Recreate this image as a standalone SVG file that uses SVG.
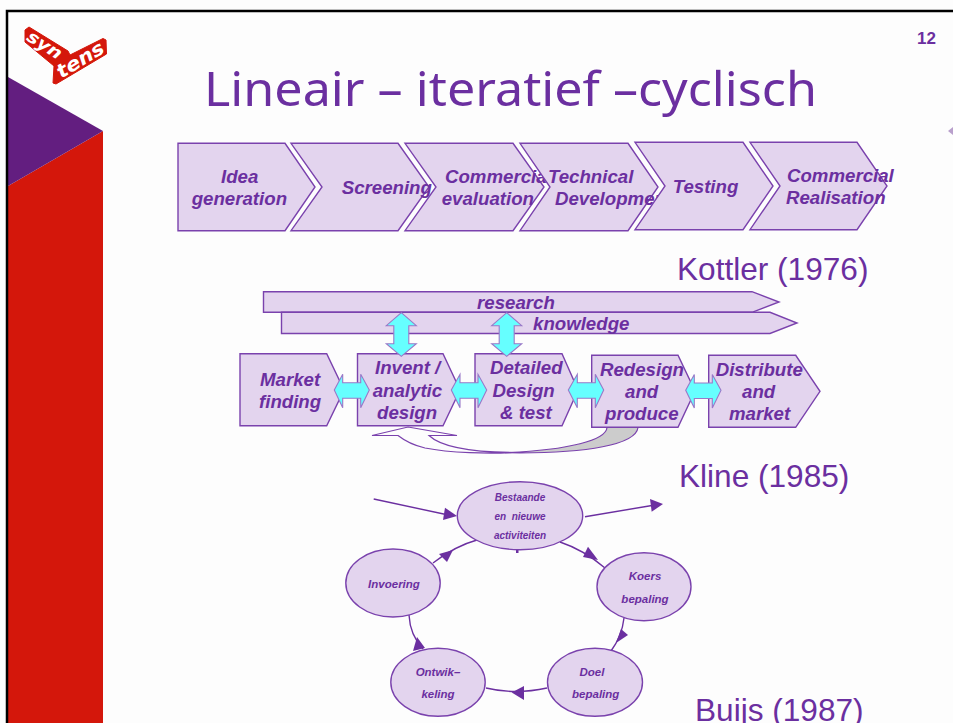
<svg xmlns="http://www.w3.org/2000/svg" width="953" height="723" viewBox="0 0 953 723">
<style>
.s{fill:#e3d4ee;stroke:#7a42ad;stroke-width:1.4}
.t{font-family:"Liberation Sans",Arial,sans-serif;font-weight:bold;font-style:italic;font-size:18.67px;fill:#6b2fa0}
.e{font-size:11.5px}
.h{font-family:"Liberation Sans",Arial,sans-serif;font-size:31.6px;fill:#6b2fa0}
.c{fill:#66ffff;stroke:#9a78c8;stroke-width:1.1}
.l{fill:none;stroke:#6b2fa0;stroke-width:1.4}
.a{fill:#6b2fa0}
.m{text-anchor:middle}
</style>
<rect width="953" height="723" fill="#fdfdfd"/>
<g id="frame">
<path d="M8,723V186L103,131V723Z" fill="#d4170b"/>
<path d="M8,77L103,131L8,186Z" fill="#631e80"/>
<path d="M7,723V11H953" fill="none" stroke="#000" stroke-width="2.5"/>
<polygon points="948,131 953,127 953,135" fill="#b9a0cc"/>
</g>
<g id="logo">
<path d="M25,30L29,27L68,51L70,55L103,38.5L106,40L106.5,54L56,84L53,83L54,66L25,42Z" fill="#d4170b" stroke="#d4170b" stroke-width="1" stroke-linejoin="round"/>
<text x="44" y="50.5" class="m" transform="rotate(33 44 46)" font-family="DejaVu Sans,sans-serif" font-weight="bold" font-style="italic" font-size="17" fill="#fff" textLength="38" lengthAdjust="spacingAndGlyphs">syn</text>
<text x="81" y="66" class="m" transform="rotate(-31 81 61)" font-family="DejaVu Sans,sans-serif" font-weight="bold" font-style="italic" font-size="19" fill="#fff" textLength="52" lengthAdjust="spacingAndGlyphs">tens</text>
</g>
<text id="title" x="204" y="106" font-family="Noto Sans,sans-serif" font-size="47" fill="#6b2fa0" textLength="613" lengthAdjust="spacingAndGlyphs">Lineair – iteratief –cyclisch</text>
<text id="page" x="917" y="44" font-family="Liberation Sans,Arial,sans-serif" font-weight="bold" font-size="17" fill="#6b2fa0">12</text>

<g id="kottler-1">
<polygon class="s" points="178,143.3 285,143.3 315,187 285,230.7 178,230.7"/>
<text class="t" x="221" y="182.7">Idea</text><text class="t" x="191.7" y="205">generation</text>
</g>
<g id="kottler-2">
<polygon class="s" points="291,143.3 398,143.3 429,187 398,230.7 291,230.7 322,187"/>
<text class="t" x="341.7" y="194">Screening</text>
</g>
<g id="kottler-3">
<polygon class="s" points="405,143.3 513,143.3 544,187 513,230.7 405,230.7 436,187"/>
<text class="t" x="445" y="182.7">Commercial</text><text class="t" x="441.7" y="205">evaluation</text>
</g>
<g id="kottler-4">
<polygon class="s" points="520,143.3 628,143.3 658,187 628,230.7 520,230.7 550,187"/>
<text class="t" x="548" y="182.7">Technical</text><text class="t" x="555" y="205">Development</text>
</g>
<g id="kottler-5">
<polygon class="s" points="635,142.3 743,142.3 773,186 743,229.7 635,229.7 665,186"/>
<text class="t" x="672.7" y="193">Testing</text>
</g>
<g id="kottler-6">
<polygon class="s" points="750,142.3 857,142.3 887,186 857,229.7 750,229.7 780,186"/>
<text class="t" x="787" y="181.7">Commercial</text><text class="t" x="786" y="204">Realisation</text>
</g>
<text class="h" x="677" y="280">Kottler (1976)</text>

<g id="bar-research">
<polygon class="s" points="263.5,291.7 752,291.7 779,302 752,312.3 263.5,312.3"/>
<text class="t" x="477" y="309">research</text>
</g>
<g id="bar-knowledge">
<polygon class="s" points="281.5,312.3 770,312.3 797,323 770,333.5 281.5,333.5"/>
<text class="t" x="533" y="329.5">knowledge</text>
</g>
<g id="kline-1">
<polygon class="s" points="240,353.7 326.7,353.7 344,390 326.7,425.7 240,425.7"/>
<text class="t" x="260" y="385.7">Market</text><text class="t" x="259" y="408">finding</text>
</g>
<g id="kline-2">
<polygon class="s" points="357.5,353.7 443,353.7 460,390 443,425.7 357.5,425.7"/>
<text class="t" x="375" y="374">Invent /</text><text class="t" x="372.7" y="396.7">analytic</text><text class="t" x="377" y="419">design</text>
</g>
<g id="kline-3">
<polygon class="s" points="475,353.7 562,353.7 578,390 562,425.7 475,425.7"/>
<text class="t" x="490" y="374">Detailed</text><text class="t" x="492.5" y="396.7">Design</text><text class="t" x="500" y="419">&amp; test</text>
</g>
<g id="kline-4">
<polygon class="s" points="591.7,355.3 678,355.3 695,391 678,427.3 591.7,427.3"/>
<text class="t" x="600" y="375.7">Redesign</text><text class="t" x="625" y="397.7">and</text><text class="t" x="605" y="420">produce</text>
</g>
<g id="kline-5">
<polygon class="s" points="708.7,355.3 795.7,355.3 820,391.3 795.7,427.3 708.7,427.3"/>
<text class="t" x="715.7" y="375.7">Distribute</text><text class="t" x="742" y="397.7">and</text><text class="t" x="729" y="420">market</text>
</g>
<text class="h" x="679" y="486.5">Kline (1985)</text>

<g id="kline-connectors">
<polygon class="c" points="334.3,390 342.7,374.3 342.7,382.7 360.7,382.7 360.7,374.3 369.3,390 360.7,407.7 360.7,398.3 342.7,398.3 342.7,407.7"/>
<polygon class="c" points="451.3,390 460,374.3 460,382.7 478,382.7 478,374.3 486.7,390 478,407.7 478,398.3 460,398.3 460,407.7"/>
<polygon class="c" points="568.3,390 577.3,374.3 577.3,382.7 595.3,382.7 595.3,374.3 603.7,390 595.3,407.7 595.3,398.3 577.3,398.3 577.3,407.7"/>
<polygon class="c" points="685.7,390.3 694.3,374.5 694.3,383 712.3,383 712.3,374.5 721,390.3 712.3,408 712.3,398.5 694.3,398.5 694.3,408"/>
<polygon class="c" points="401.3,312.7 416.3,325.7 408.8,325.7 408.8,343.7 416.3,343.7 401.3,356.3 386.3,343.7 393.8,343.7 393.8,325.7 386.3,325.7"/>
<polygon class="c" points="506.7,312.7 521.7,325.7 514.2,325.7 514.2,343.7 521.7,343.7 506.7,356.3 491.7,343.7 499.2,343.7 499.2,325.7 491.7,325.7"/>
<path d="M408,427L457,435.5H429C440,446 470,452 512,452.5C490,454 450,453 425,448C412,445 405,441 398,435.5H372Z" fill="#fdfdfd" stroke="#7a42ad" stroke-width="1.2"/>
<path d="M607,427.5C606,440 570,450 505,452.7C590,454 636,444 638,427.5Z" fill="#cccccc" stroke="#7a42ad" stroke-width="1.2"/>
</g>

<g id="buijs-connectors">
<rect x="516" y="549" width="2.5" height="4" class="a"/>
<path class="l" d="M373.7,499L446,514.5"/>
<polygon class="a" points="457,516 445,507.7 443,520"/>
<path class="l" d="M585,516.7L652,505.5"/>
<polygon class="a" points="663,504 650,499 651.7,511.7"/>
<path class="l" d="M560,542Q584,550 605,568"/>
<polygon class="a" points="598,560 588,546.7 583,557"/>
<path class="l" d="M624,618Q622,636 611,651"/>
<polygon class="a" points="621,629 628,635 616,643"/>
<path class="l" d="M547,688Q515,695 486,688"/>
<polygon class="a" points="511.7,692.5 524,686 524,700"/>
<path class="l" d="M423,649Q410,635 409,615"/>
<polygon class="a" points="417,637 425,648 413,651"/>
<path class="l" d="M433,563Q455,546 477,540"/>
<polygon class="a" points="453,550 439,554 447,562"/>
</g>
<g id="buijs-top">
<ellipse class="s" cx="520" cy="515.7" rx="62.7" ry="34"/>
<g class="t e"><text class="m" x="520" y="501" font-size="10" style="font-size:10px">Bestaande</text><text class="m" x="520" y="520" style="font-size:10px" xml:space="preserve">en  nieuwe</text><text class="m" x="520" y="539" style="font-size:10px">activiteiten</text></g>
</g>
<g id="buijs-koers">
<ellipse class="s" cx="644" cy="586.7" rx="47" ry="34"/>
<text class="t e m" x="645" y="580">Koers</text><text class="t e m" x="645" y="602.7">bepaling</text>
</g>
<g id="buijs-doel">
<ellipse class="s" cx="595" cy="682.3" rx="47.5" ry="34"/>
<text class="t e m" x="592" y="676">Doel</text><text class="t e m" x="595.7" y="698">bepaling</text>
</g>
<g id="buijs-ontwik">
<ellipse class="s" cx="438" cy="682.3" rx="47.2" ry="34"/>
<text class="t e m" x="438" y="676">Ontwik–</text><text class="t e m" x="438" y="698">keling</text>
</g>
<g id="buijs-invoering">
<ellipse class="s" cx="393" cy="583" rx="47.2" ry="34"/>
<text class="t e m" x="394" y="587.7">Invoering</text>
</g>
<text class="h" x="695" y="720.5">Buijs (1987)</text>
</svg>
